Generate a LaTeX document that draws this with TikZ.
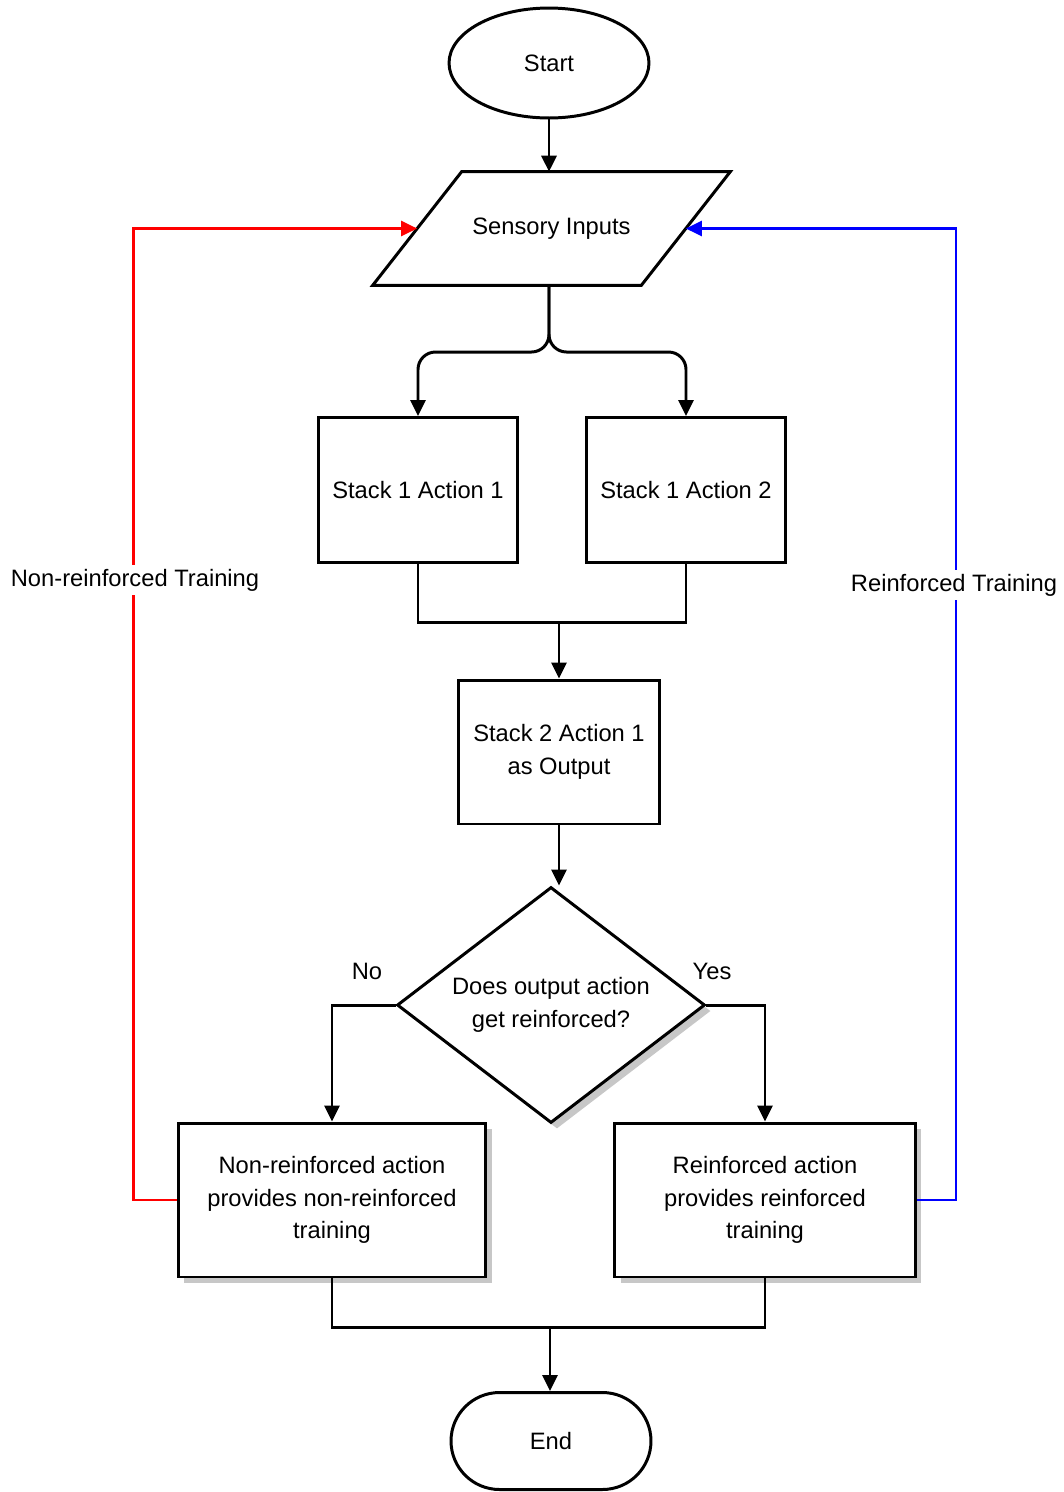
\documentclass[tikz,border=0pt]{standalone}
\usepackage{fontspec}
\setmainfont{Liberation Sans}
\usetikzlibrary{shapes.geometric,shapes.misc,arrows.meta,shadows}
\begin{document}
\begin{tikzpicture}[x=0.02cm, y=-0.02cm,
	every node/.style={font=\fontsize{13.5}{18.5}\selectfont, align=center, inner sep=0pt},
	shape line/.style={draw=black, line width=1.7pt, fill=white},
	box/.style={shape line, rectangle, minimum width=4cm, minimum height=2.9cm},
	shade/.style={drop shadow={shadow xshift=0.12cm, shadow yshift=-0.12cm, fill=black!22, opacity=1}},
	link/.style={draw=black, line width=1.7pt},
	flow/.style={link, -{Triangle[length=0.32cm, width=0.3cm]}},
	feedback/.style={line width=1.3pt, -{Triangle[length=0.32cm, width=0.3cm]}},
	side label/.style={fill=white, inner sep=2pt}]
	\useasboundingbox (0,0) rectangle (1063,1492);
	\node[shape line, ellipse, minimum width=4cm, minimum height=2.2cm] (start) at (549,63) {Start};
	\node[minimum width=5.36cm, minimum height=2.26cm] (input) at (551.5,228.5) {Sensory Inputs};
	\draw[link, line join=miter] ([xshift=-0.89cm]input.south west) -- ([xshift=0.89cm]input.north west)
		-- ([xshift=0.89cm]input.north east) -- ([xshift=-0.89cm]input.south east) -- cycle;
	\node[box] (s1a1) at (418,490) {Stack 1 Action 1};
	\node[box] (s1a2) at (686,490) {Stack 1 Action 2};
	\node[box, minimum width=4.02cm, minimum height=2.88cm] (s2a1) at (559,752) {Stack 2 Action 1\\as Output};
	\node[shape line, diamond, shade, aspect=1.3, minimum width=6.16cm, minimum height=4.72cm] (check) at (551,1005) {Does output action\\get reinforced?};
	\node[box, shade, minimum width=6.16cm, minimum height=3.08cm] (nonr) at (332,1200) {Non-reinforced action\\provides non-reinforced\\training};
	\node[box, shade, minimum width=6.02cm, minimum height=3.08cm] (reinf) at (765,1200) {Reinforced action\\provides reinforced\\training};
	\node[shape line, rounded rectangle, minimum width=4cm, minimum height=1.94cm] (end) at (551,1441) {End};
	\coordinate (fork) at (549,352);
	\coordinate (join) at (559,622);
	\coordinate (merge) at (550,1327);
	\draw[flow] (start) -- (start |- input.north);
	\draw[flow, rounded corners=0.35cm] (start |- input.south) -- (fork) -| (s1a1.north);
	\draw[flow, rounded corners=0.35cm] (start |- input.south) -- (fork) -| (s1a2.north);
	\draw[link] (s1a1.south) |- (join) -| (s1a2.south);
	\draw[flow] (join) -- (join |- s2a1.north);
	\draw[flow] (s2a1.south) -- (s2a1.south |- check.north);
	\draw[flow] (check.west) -| (nonr.north);
	\draw[flow] (check.east) -| (reinf.north);
	\node (no) at (367,971) {No};
	\node (yes) at (712,971) {Yes};
	\draw[link] (nonr.south) |- (merge) -| (reinf.south);
	\draw[flow] (merge) -- (merge |- end.north);
	\draw[feedback, red] (nonr.west) -- ++(-43,0) |- (input.west);
	\draw[feedback, blue] (reinf.east) -- ++(39,0) |- (input.east);
	\node[side label] (nonrlabel) at (135,580) {Non-reinforced Training};
	\node[side label] (reinflabel) at (954,585) {Reinforced Training};
\end{tikzpicture}
\end{document}
